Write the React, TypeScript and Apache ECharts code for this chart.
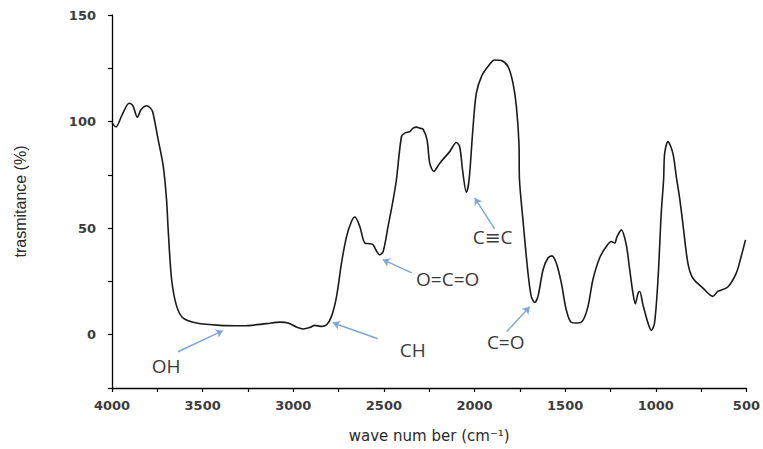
import React, { useEffect, useRef } from "react";
import * as echarts from "echarts";

const waveNumbers = [
  4000, 3978, 3945, 3905, 3885, 3860, 3840, 3809, 3790, 3776, 3745, 3717, 3699, 3690,
  3671, 3643, 3607, 3533, 3405, 3276, 3147, 3074, 3028, 2982, 2945, 2908, 2881, 2844,
  2816, 2789, 2761, 2734, 2706, 2679, 2660, 2633, 2605, 2578, 2560, 2523, 2504, 2477,
  2449, 2431, 2403, 2385, 2357, 2339, 2320, 2302, 2284, 2262, 2247, 2225, 2192, 2137,
  2100, 2082, 2064, 2045, 2030, 2008, 1990, 1962, 1926, 1889, 1852, 1815, 1788, 1769,
  1755, 1752, 1733, 1705, 1687, 1668, 1650, 1622, 1595, 1573, 1549, 1521, 1494, 1466,
  1429, 1402, 1374, 1347, 1310, 1273, 1245, 1227, 1214, 1190, 1163, 1144, 1126, 1113,
  1098, 1089, 1071, 1043, 1025, 1007, 988, 970, 957, 951, 933, 906, 887, 870, 851, 823,
  796, 740, 685, 658, 603, 556, 529, 505,
];

const transmittance = [
  99.5, 97.5, 103, 108.6, 107.5, 102, 105.5, 107.4, 106.5, 104.7, 91.4, 78.9, 63.3, 49.2,
  25.8, 13.3, 7.8, 5.5, 4.4, 4.2, 5.2, 5.9, 5.5, 3.6, 2.7, 3.4, 4.4, 3.9,
  4.7, 8.6, 18, 33.6, 46, 53.1, 55.2, 50.8, 43, 42.7, 42.2, 37.5, 39, 50.8,
  63.3, 72.7, 93, 94.6, 95.3, 96.9, 97.4, 96.9, 96.4, 91.4, 80.5, 76.6, 80.5, 85.9,
  90.2, 88.3, 75.8, 66.7, 72.7, 97.7, 113.3, 121.1, 125.8, 128.9, 128.6, 125.8, 118, 107,
  89.9, 72.7, 53.9, 28.9, 18, 15.1, 18, 30.5, 36, 37, 33.6, 24.2, 11.7, 5.8,
  5.5, 6.7, 13.3, 25.8, 36, 41.4, 43.7, 43, 46, 49.2, 42.2, 30.5, 19.5, 14.5,
  19.5, 20.3, 14.1, 5.5, 2, 5.5, 25.8, 57, 72.7, 85.2, 90.6, 85.2, 74.2, 65, 52.4, 33.6,
  26.6, 21.9, 18, 20.3, 22.4, 28.9, 36.7, 44.5,
];

const xTickLabels = [4000, 3500, 3000, 2500, 2000, 1500, 1000, 500];
const yTickLabels = [0, 50, 100, 150];

// annotations: label, label position [wn, value], arrow start, arrow end
const annotationLabels = ["OH", "CH", "O=C=O", "C\u2261C", "C=O"];
const annotationTextAt = [
  [3702, -14.5],
  [2341, -7],
  [2148, 26.3],
  [1900, 45.9],
  [1828, -3.3],
];
const annotationArrowFrom = [
  [3636, -8],
  [2534, -1.9],
  [2346, 29],
  [1889, 49.7],
  [1823, 1.4],
];
const annotationArrowTo = [
  [3388, 1.9],
  [2782, 5.6],
  [2506, 35.2],
  [1999, 64.2],
  [1696, 13.1],
];

export default function App() {
  const ref = useRef<HTMLDivElement>(null);

  useEffect(() => {
    if (!ref.current) return;
    const chart = echarts.init(ref.current, null, { renderer: "svg" });
    const seriesData = waveNumbers.map((w, i) => [w, transmittance[i]]);
    const tickFont = {
      fontFamily: "DejaVu Sans",
      fontSize: 13,
      fontWeight: "bold",
      color: "#3c3c3c",
    };

    chart.setOption({
      animation: false,
      backgroundColor: "#ffffff",
      grid: { left: 112, right: 16, top: 15, bottom: 61 },
      xAxis: {
        type: "value",
        min: 500,
        max: 4000,
        interval: 250,
        inverse: true,
        name: "wave num ber (cm\u207B\u00B9)",
        nameLocation: "middle",
        nameGap: 40,
        nameTextStyle: { fontFamily: "DejaVu Sans", fontSize: 15, color: "#2a2a2a" },
        axisLine: { show: true, onZero: false, lineStyle: { color: "#000", width: 1.3 } },
        axisTick: { show: true, length: 4, lineStyle: { color: "#000", width: 1.2 } },
        splitLine: { show: false },
        axisLabel: {
          ...tickFont,
          margin: 11,
          formatter: (v: number) => (xTickLabels.includes(v) ? String(v) : ""),
        },
      },
      yAxis: {
        type: "value",
        min: -25,
        max: 150,
        interval: 25,
        name: "trasmitance (%)",
        nameLocation: "middle",
        nameGap: 84,
        nameTextStyle: { fontFamily: "Liberation Sans", fontSize: 16, color: "#2a2a2a" },
        axisLine: { show: true, onZero: false, lineStyle: { color: "#000", width: 1.3 } },
        axisTick: { show: true, length: 4, lineStyle: { color: "#000", width: 1.2 } },
        splitLine: { show: false },
        axisLabel: {
          ...tickFont,
          margin: 16,
          formatter: (v: number) => (yTickLabels.includes(v) ? String(v) : ""),
        },
      },
      series: [
        {
          type: "line",
          data: seriesData,
          smooth: 0.3,
          symbol: "none",
          lineStyle: { color: "#1a1a1a", width: 1.6 },
          markLine: {
            silent: true,
            symbol: ["none", "arrow"],
            symbolSize: 7,
            label: { show: false },
            lineStyle: { color: "#7ea6d6", width: 1.5, type: "solid" },
            data: annotationArrowFrom.map((f, i) => [
              { coord: f },
              { coord: annotationArrowTo[i] },
            ]),
          },
          markPoint: {
            silent: true,
            symbol: "circle",
            symbolSize: 0,
            label: {
              show: true,
              position: "inside",
              fontFamily: "Open Sans, DejaVu Sans",
              fontSize: 19,
              color: "#3a3a3a",
            },
            data: annotationLabels.map((t, i) => ({
              coord: annotationTextAt[i],
              value: t,
              label: { formatter: t },
            })),
          },
        },
      ],
    });

    return () => chart.dispose();
  }, []);

  return (
    <div
      ref={ref}
      style={{ position: "fixed", left: 0, top: 0, width: 763, height: 449 }}
    />
  );
}
